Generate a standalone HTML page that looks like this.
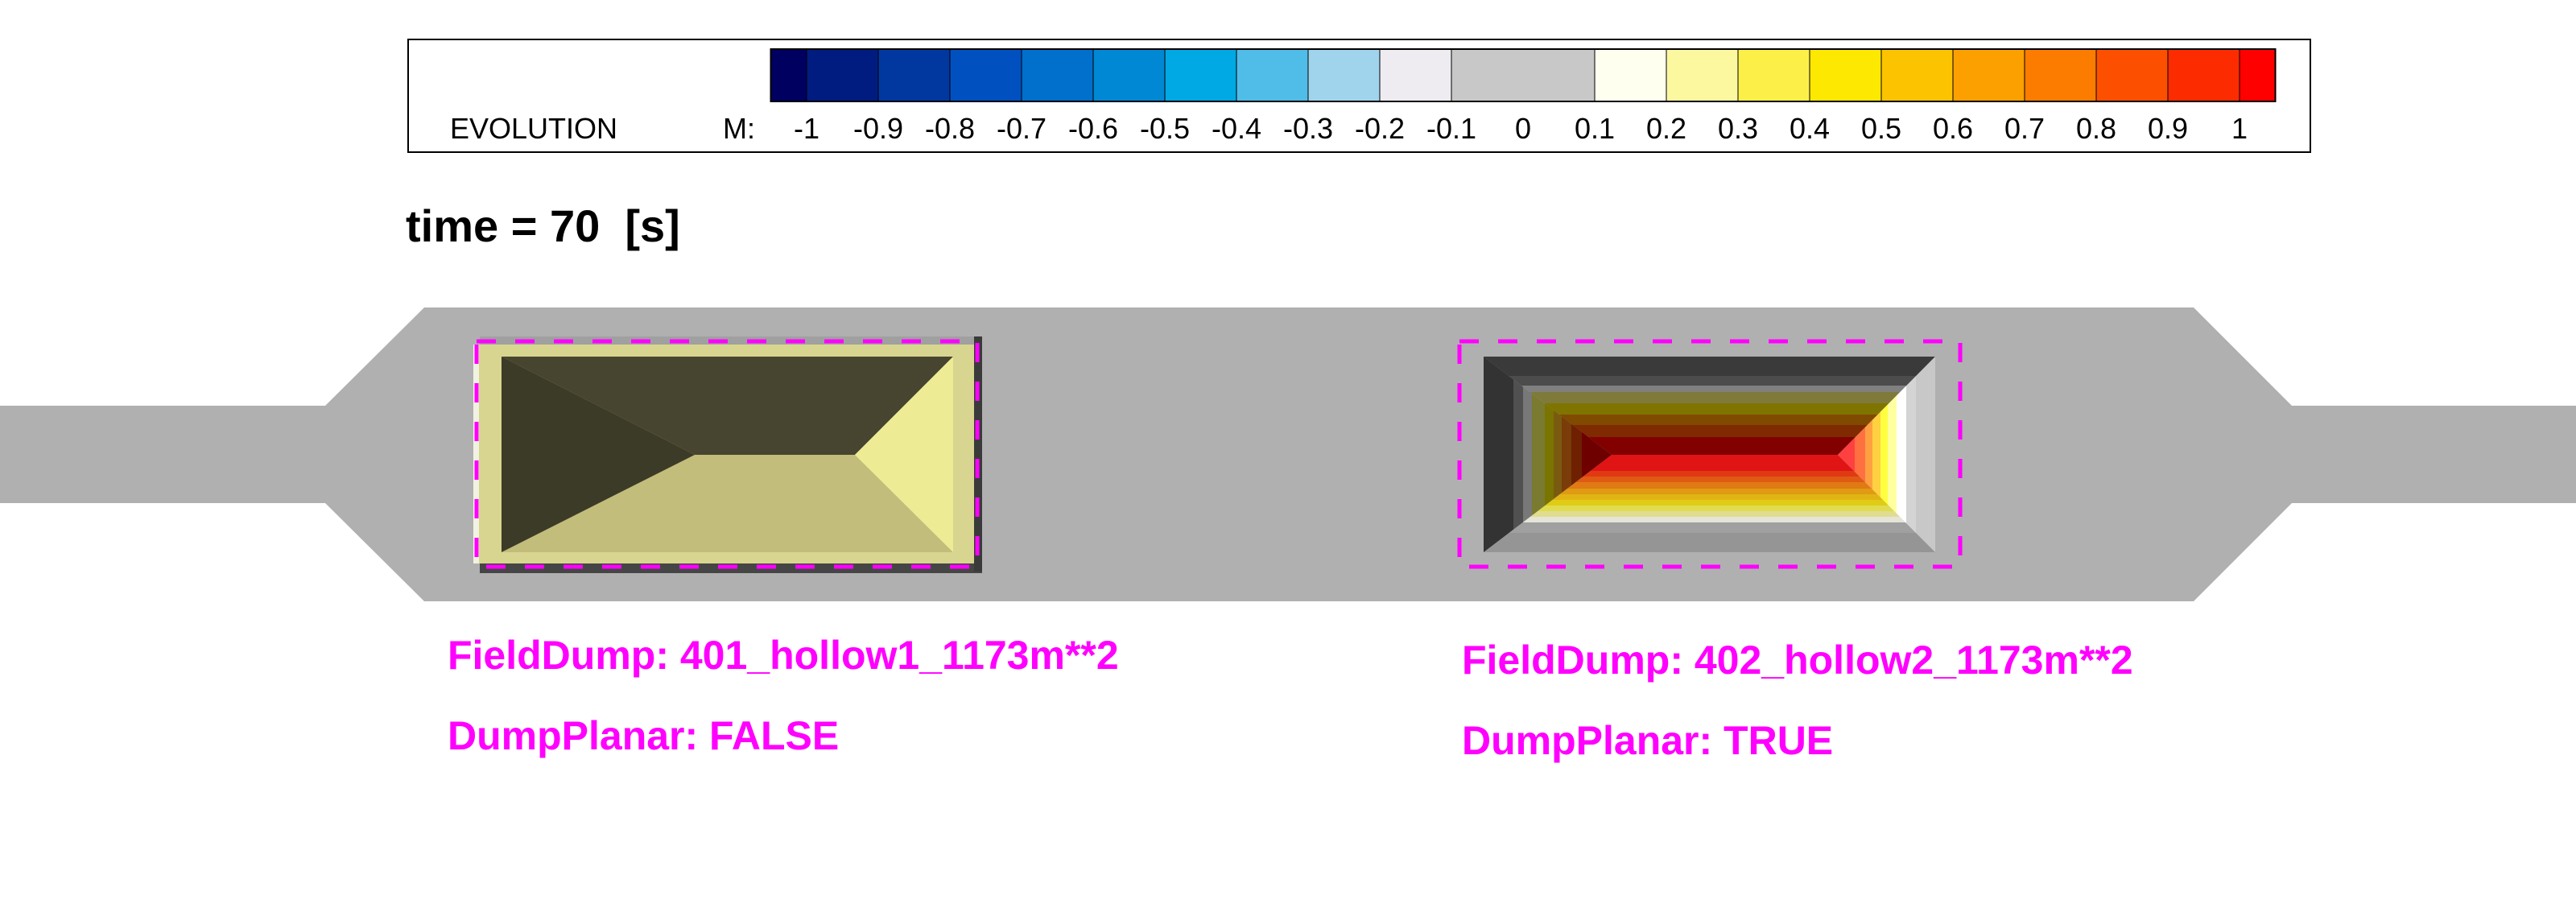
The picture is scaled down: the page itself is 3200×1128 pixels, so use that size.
<!DOCTYPE html>
<html><head><meta charset="utf-8">
<style>
html,body{margin:0;padding:0;background:#fff;}
svg{display:block;}
text{font-family:"Liberation Sans",sans-serif;}
</style></head>
<body>
<svg id="chart" width="3200" height="1128" viewBox="0 0 3200 1128" xmlns="http://www.w3.org/2000/svg">
  <rect x="0" y="0" width="3200" height="1128" fill="#fff"/>
  <g id="legend">
    <rect x="507" y="49" width="2363" height="140" fill="#fff" stroke="#000" stroke-width="2"/>
    <text x="559" y="172" font-size="36">EVOLUTION</text>
    <text x="898" y="172" font-size="36">M:</text>
    <g id="cbar"></g>
    <g id="cticks"></g>
  </g>
  <text x="504" y="300" font-size="56" font-weight="bold" xml:space="preserve" style="white-space:pre">time = 70  [s]</text>

  <path d="M0 504 L404 504 L527 382 L2725 382 L2847 504 L3200 504 L3200 625 L2847 625 L2725 747 L527 747 L404 625 L0 625 Z" fill="#b0b0b0"/>

  <g>
    <rect x="596" y="418" width="624" height="12" fill="#a0a0a0"/>
    <rect x="588" y="428" width="8" height="272" fill="#f2f2e4"/>
    <rect x="596" y="700" width="624" height="12" fill="#454545"/>
    <rect x="1210" y="418" width="10" height="292" fill="#3a3a3a"/>
    <rect x="595" y="428" width="615" height="272" fill="#d8d590"/>
    <polygon points="623,443 1184,443 1062,565 863,565" fill="#474530"/>
    <polygon points="623,686 1184,686 1062,565 863,565" fill="#c2bd7a"/>
    <polygon points="623,443 863,565 623,686" fill="#3c3b28"/>
    <polygon points="1184,443 1184,686 1062,565" fill="#eeeb95"/>
    <rect x="592" y="424" width="622" height="280" fill="none" stroke="#ff00ff" stroke-width="5" stroke-dasharray="24 24"/>
  </g>

  <g>
    <defs>
      <clipPath id="ctop"><polygon points="1843,443 2404,443 2283,565 2002,565"/></clipPath>
      <clipPath id="cbot"><polygon points="1843,686 2404,686 2283,565 2002,565"/></clipPath>
      <clipPath id="cleft"><polygon points="1843,443 2002,565 1843,686"/></clipPath>
      <clipPath id="cright"><polygon points="2404,443 2404,686 2283,565"/></clipPath>
    </defs>
    <g id="h2top" clip-path="url(#ctop)"></g>
    <g id="h2bot" clip-path="url(#cbot)"></g>
    <g id="h2left" clip-path="url(#cleft)"></g>
    <g id="h2right" clip-path="url(#cright)"></g>
    <rect x="1813" y="424" width="622" height="280" fill="none" stroke="#ff00ff" stroke-width="5" stroke-dasharray="24 24"/>
  </g>

  <g fill="#ff00ff" font-weight="bold" font-size="50">
    <text x="556" y="831">FieldDump: 401_hollow1_1173m**2</text>
    <text x="556" y="931">DumpPlanar: FALSE</text>
    <text x="1816" y="837">FieldDump: 402_hollow2_1173m**2</text>
    <text x="1816" y="937">DumpPlanar: TRUE</text>
  </g>
</svg>
<script>
const tickValues = [-1,-0.9,-0.8,-0.7,-0.6,-0.5,-0.4,-0.3,-0.2,-0.1,0,0.1,0.2,0.3,0.4,0.5,0.6,0.7,0.8,0.9,1];
const tickLabels = ["-1","-0.9","-0.8","-0.7","-0.6","-0.5","-0.4","-0.3","-0.2","-0.1","0","0.1","0.2","0.3","0.4","0.5","0.6","0.7","0.8","0.9","1"];
const binStarts = [-1.05,-1,-0.9,-0.8,-0.7,-0.6,-0.5,-0.4,-0.3,-0.2,-0.1,0.1,0.2,0.3,0.4,0.5,0.6,0.7,0.8,0.9,1];
const binEnds   = [-1,-0.9,-0.8,-0.7,-0.6,-0.5,-0.4,-0.3,-0.2,-0.1,0.1,0.2,0.3,0.4,0.5,0.6,0.7,0.8,0.9,1,1.05];
const binColors = ["#000060","#001c80","#0038a0","#0050c0","#0070cc","#0088d4","#00a8e4","#50bce8","#a0d4ec","#eeecf0","#c8c8c8","#fffff0","#fcf8a0","#fcf048","#fce800","#fcc400","#fca000","#fc7c00","#fc5000","#fc2c00","#ff0000"];

const NS = "http://www.w3.org/2000/svg";
const X0 = 1002, X1 = 2782;
function xScale(v){ return X0 + (v - (-1)) / 2 * (X1 - X0); }
function mk(tag, attrs){ const e = document.createElementNS(NS, tag); for (const k in attrs) e.setAttribute(k, attrs[k]); return e; }

const cbar = document.getElementById("cbar");
for (let i = 0; i < binColors.length; i++) {
  const a = xScale(binStarts[i]), b = xScale(binEnds[i]);
  const r = mk("rect", {x: a, y: 61, width: b - a, height: 65, fill: binColors[i], stroke: "#000", "stroke-width": 1});
  
  
  cbar.appendChild(r);
}
const fr = mk("rect", {x: xScale(-1.05), y: 61, width: xScale(1.05) - xScale(-1.05), height: 65, fill: "none", stroke: "#000", "stroke-width": 2});


cbar.appendChild(fr);

const ct = document.getElementById("cticks");
for (let i = 0; i < tickValues.length; i++) {
  const t = mk("text", {x: xScale(tickValues[i]), y: 172, "font-size": 36, "text-anchor": "middle"});
  t.textContent = tickLabels[i];
  
  
  ct.appendChild(t);
}

const topBandsY = [443,467,479,487,501,515,528,543,565];
const topBandsC = ["#3a3a3a","#4c4c4c","#808080","#7f7a3a","#807400","#804a00","#7f2a00","#820000"];
const botBandsY = [565,585,592,599,607,614,621,628,635,642,649,662,686];
const botBandsC = ["#e01414","#e03a14","#e05a14","#e07a14","#e09a14","#e0b414","#e0cc14","#e0dc50","#e0dc90","#e4e4d8","#a0a0a0","#959595"];
const leftBandsX = [1843,1880,1892,1903,1919,1930,1940,1952,1965,2002];
const leftBandsC = ["#333333","#505050","#787878","#7a7a30","#7a7400","#7a5a10","#7a3c08","#6e2000","#6e0000"];
const rightBandsX = [2283,2304,2317,2326,2336,2345,2356,2368,2380,2404];
const rightBandsC = ["#ff4040","#ff7040","#ffa040","#ffd040","#ffff40","#ffffa0","#ffffff","#d4d4d4","#c8c8c8"];

function hb(gid, ys, cs){
  const g = document.getElementById(gid);
  for (let i = 0; i < cs.length; i++) {
    const r = mk("rect", {x: 1843, y: ys[i], width: 561, height: ys[i+1] - ys[i], fill: cs[i]});
    
    
    g.appendChild(r);
  }
}
function vb(gid, xs, cs){
  const g = document.getElementById(gid);
  for (let i = 0; i < cs.length; i++) {
    const r = mk("rect", {x: xs[i], y: 443, width: xs[i+1] - xs[i], height: 243, fill: cs[i]});
    
    
    g.appendChild(r);
  }
}
hb("h2top", topBandsY, topBandsC);
hb("h2bot", botBandsY, botBandsC);
vb("h2left", leftBandsX, leftBandsC);
vb("h2right", rightBandsX, rightBandsC);
</script>
</body></html>
